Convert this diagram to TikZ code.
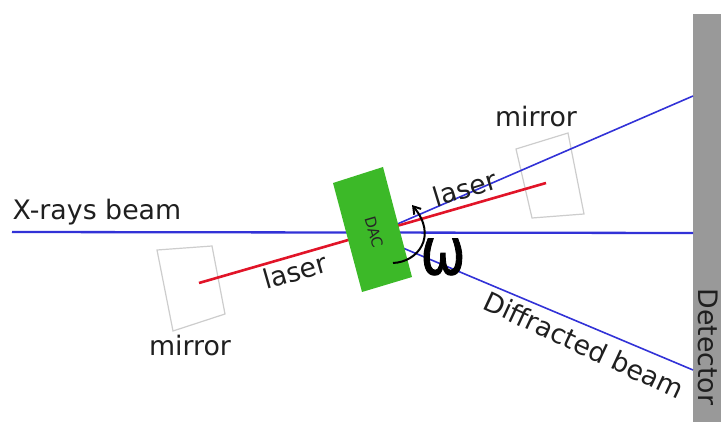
\documentclass[tikz,border=0pt]{standalone}
\usepackage{fontspec}
\setmainfont{DejaVu Sans}
\newfontfamily\omegafont[FakeBold=1.6]{DejaVu Sans}
\usetikzlibrary{arrows.meta}
\definecolor{beamblue}{RGB}{50,50,215}
\definecolor{laserred}{RGB}{225,20,40}
\definecolor{dacgreen}{RGB}{60,185,40}
\definecolor{detgray}{RGB}{153,153,153}
\definecolor{mirrorline}{RGB}{205,205,205}
\tikzset{
  beam/.style={draw=beamblue,line width=1.6pt},
  mainbeam/.style={draw=beamblue,line width=2.3pt},
  laserbeam/.style={draw=laserred,line width=2.6pt},
  mirrorbox/.style={draw=mirrorline,fill=white,line width=1.2pt},
  lab/.style={text=black!88,inner sep=0pt,font=\fontsize{26.8}{30}\selectfont},
}
\begin{document}
\begin{tikzpicture}[x=1pt,y=-1pt]
\useasboundingbox (0,0) rectangle (721,422);
% detector
\fill[detgray] (693,14) rectangle (721,422);
\node[lab,rotate=-90] (det) at (708,347) {Detector};
% mirrors
\draw[mirrorbox] (516,149) -- (568,133) -- (584,214) -- (532,218) -- cycle;
\draw[mirrorbox] (157,250) -- (212,246) -- (225,314) -- (173,331) -- cycle;
% beams
\coordinate (src) at (12,232);
\coordinate (det1) at (693,233);
\coordinate (det2) at (693,96);
\coordinate (det3) at (693,370);
\coordinate (cen) at (372,235);
\coordinate (lasA) at (199,283);
\coordinate (lasB) at (546,183);
\draw[mainbeam] (src) -- (det1);
\draw[beam] (cen) -- (det2);
\draw[beam] (cen) -- (det3);
\draw[laserbeam] (lasA) -- (lasB);
% DAC
\fill[dacgreen] (333,183) -- (383,167) -- (412,277) -- (362,292) -- cycle;
\node[inner sep=0pt,rotate=-74,font=\fontsize{15}{17}\selectfont,text=black!85] (dac) at (374,232) {DAC};
% omega arrow
\coordinate (arcA) at (393,263);
\coordinate (arcB) at (412,205);
\draw[black,line width=2pt,-{Straight Barb[length=7pt,width=9pt]}] (arcA) .. controls (418,262) and (438,236) .. (arcB);
\node[inner sep=0pt,font=\omegafont\fontsize{50}{52}\selectfont] (omega) at (443,257) {\scalebox{1.08}[1.3]{ω}};
% labels
\node[lab] (xr) at (97,212) {X-rays beam};
\node[lab] (m1) at (536,117) {mirror};
\node[lab] (m2) at (190,346) {mirror};
\node[lab,rotate=17] (l1) at (465,188) {laser};
\node[lab,rotate=16] (l2) at (295,271) {laser};
\node[lab,rotate=-25] (diff) at (584,345) {Diffracted beam};
\end{tikzpicture}
\end{document}
